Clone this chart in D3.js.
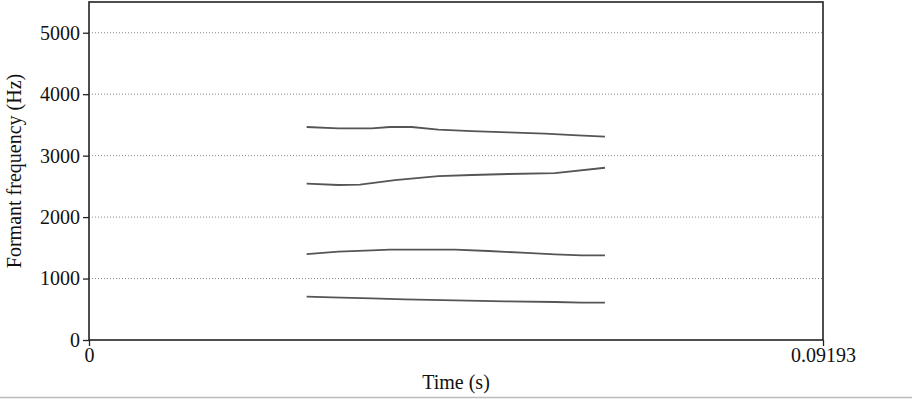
<!DOCTYPE html>
<html>
<head>
<meta charset="utf-8">
<script src="https://cdn.jsdelivr.net/npm/d3@7"></script>
<style>
  body { margin: 0; background: #fff; }
  svg { display: block; }
</style>
</head>
<body>
<div id="chart"></div>
<script>
// formant tracks, time in s, frequency in Hz
var f1Times = [0.02726, 0.03040, 0.03541, 0.03958, 0.04584, 0.05210, 0.05836, 0.06171, 0.06462];
var f1Values = [705, 695, 678, 662, 646, 630, 618, 607, 607];

var f2Times = [0.02726, 0.03122, 0.03541, 0.03770, 0.04584, 0.05001, 0.05419, 0.05836, 0.06171, 0.06462];
var f2Values = [1399, 1437, 1459, 1469, 1469, 1448, 1421, 1394, 1378, 1378];

var f3Times = [0.02726, 0.03122, 0.03394, 0.03832, 0.04375, 0.04793, 0.05251, 0.05836, 0.06462];
var f3Values = [2543, 2522, 2527, 2603, 2668, 2685, 2701, 2717, 2803];

var f4Times = [0.02726, 0.03122, 0.03541, 0.03770, 0.04041, 0.04375, 0.04793, 0.05251, 0.05711, 0.06124, 0.06462];
var f4Values = [3466, 3445, 3445, 3466, 3466, 3422, 3400, 3379, 3357, 3331, 3308];

var yTicks = [0, 1000, 2000, 3000, 4000, 5000];
var gridTicks = [1000, 2000, 3000, 4000, 5000];
var xTicks = [0, 0.09193];

var width = 912;
var height = 399;
var margin = { top: 2, right: 89, bottom: 59, left: 89 };

var svg = d3.select("#chart").append("svg")
    .attr("width", width)
    .attr("height", height);

var x = d3.scaleLinear()
    .domain([0, 0.09193])
    .range([margin.left, width - margin.right]);

var y = d3.scaleLinear()
    .domain([0, 5500])
    .range([height - margin.bottom, margin.top]);

/*****************  Grid **********************/

svg.selectAll(".grid")
    .data(gridTicks)
    .enter()
    .append("line")
    .attr("class", "grid")
    .attr("x1", x(0))
    .attr("x2", x(0.09193))
    .attr("y1", function (d) { return y(d); })
    .attr("y2", function (d) { return y(d); })
    .style("stroke", "#888")
    .style("stroke-width", 1)
    .style("stroke-dasharray", "1,2");

/*****************  Formant lines **********************/

var tracks = [
    { t: f1Times, v: f1Values },
    { t: f2Times, v: f2Values },
    { t: f3Times, v: f3Values },
    { t: f4Times, v: f4Values }
];

var line = d3.line()
    .x(function (d) { return x(d[0]); })
    .y(function (d) { return y(d[1]); });

svg.selectAll(".track")
    .data(tracks)
    .enter()
    .append("path")
    .attr("class", "track")
    .attr("d", function (d) {
        return line(d.t.map(function (t, i) { return [t, d.v[i]]; }));
    })
    .style("fill", "none")
    .style("stroke", "#555")
    .style("stroke-width", 1.8);

/*****************  Frame and axes **********************/

svg.append("rect")
    .attr("x", x(0))
    .attr("y", y(5500))
    .attr("width", x(0.09193) - x(0))
    .attr("height", y(0) - y(5500))
    .style("fill", "none")
    .style("stroke", "#222")
    .style("stroke-width", 1.6);

var yAxis = d3.axisLeft(y).tickValues(yTicks).tickSize(6).tickPadding(3)
    .tickFormat(d3.format("d"));
svg.append("g")
    .attr("transform", "translate(" + x(0) + ",0)")
    .call(yAxis)
    .call(function (g) { g.select(".domain").remove(); })
    .call(function (g) {
        g.selectAll("line").style("stroke", "#222").style("stroke-width", 1.3);
        g.selectAll("text").style("font-family", "'Liberation Serif', serif")
            .style("font-size", "20px").style("fill", "#111");
    });

var xAxis = d3.axisBottom(x).tickValues(xTicks).tickSize(6).tickPadding(2)
    .tickFormat(function (d) { return d === 0 ? "0" : "0.09193"; });
svg.append("g")
    .attr("transform", "translate(0," + y(0) + ")")
    .call(xAxis)
    .call(function (g) { g.select(".domain").remove(); })
    .call(function (g) {
        g.selectAll("line").style("stroke", "#222").style("stroke-width", 1.3);
        g.selectAll("text").style("font-family", "'Liberation Serif', serif")
            .style("font-size", "20px").style("fill", "#111");
    });

/*****************  Titles **********************/

svg.append("text")
    .attr("x", (x(0) + x(0.09193)) / 2)
    .attr("y", 389)
    .attr("text-anchor", "middle")
    .style("font-family", "'Liberation Serif', serif")
    .style("font-size", "20px")
    .style("fill", "#111")
    .text("Time (s)");

svg.append("text")
    .attr("transform", "translate(21," + (y(0) + y(5500)) / 2 + ") rotate(-90)")
    .attr("text-anchor", "middle")
    .style("font-family", "'Liberation Serif', serif")
    .style("font-size", "20px")
    .style("fill", "#111")
    .text("Formant frequency (Hz)");

// thin page edge at the bottom
svg.append("line")
    .attr("x1", 0)
    .attr("x2", width)
    .attr("y1", 397.5)
    .attr("y2", 397.5)
    .style("stroke", "#bbb")
    .style("stroke-width", 1.5);
</script>
</body>
</html>
